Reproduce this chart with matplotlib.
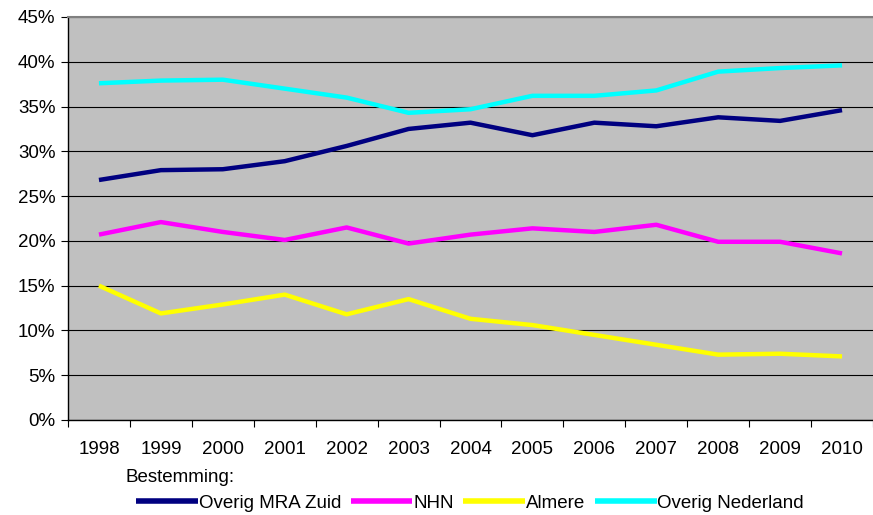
import matplotlib
matplotlib.use("Agg")
import matplotlib.pyplot as plt
import numpy as np

plt.rcParams['font.family'] = ['Liberation Sans', 'DejaVu Sans']

# data (percentages)
years = ['1998', '1999', '2000', '2001', '2002', '2003', '2004',
         '2005', '2006', '2007', '2008', '2009', '2010']
mra_zuid = [26.8, 27.9, 28.0, 28.9, 30.6, 32.5, 33.2, 31.8, 33.2, 32.8, 33.8, 33.4, 34.6]
nhn = [20.7, 22.1, 21.0, 20.1, 21.5, 19.7, 20.7, 21.4, 21.0, 21.8, 19.9, 19.9, 18.6]
almere = [15.0, 11.9, 12.9, 14.0, 11.8, 13.5, 11.3, 10.6, 9.5, 8.4, 7.3, 7.4, 7.1]
overig_nl = [37.6, 37.9, 38.0, 37.0, 36.0, 34.3, 34.7, 36.2, 36.2, 36.8, 38.9, 39.3, 39.6]

series = [('Overig MRA Zuid', mra_zuid, '#000080'),
          ('NHN', nhn, '#FF00FF'),
          ('Almere', almere, '#FFFF00'),
          ('Overig Nederland', overig_nl, '#00FFFF')]

fs = 13.5

fig = plt.figure(figsize=(8.73, 5.15), dpi=100)
ax = fig.add_axes([68 / 873, 95 / 515, 805 / 873, 403 / 515])
ax.set_facecolor('#C0C0C0')

x = np.arange(len(years))
for name, vals, col in series:
    ax.plot(x, vals, color=col, lw=3.2, label=name, solid_capstyle='butt', zorder=3)

ax.set_xlim(-0.5, len(years) - 0.5)
ax.set_ylim(0, 45)
ax.set_yticks(np.arange(0, 46, 5))
ax.set_yticklabels(['%d%%' % v for v in range(0, 46, 5)])
ax.yaxis.grid(True, color='black', lw=0.8)
ax.set_axisbelow(True)

# tick marks between categories, labels at centers
ax.set_xticks(np.arange(-0.5, len(years), 1.0))
ax.set_xticklabels([])
ax.set_xticks(x, minor=True)
ax.set_xticklabels(years, minor=True)
ax.tick_params(axis='x', which='major', length=5, color='black')
ax.tick_params(axis='x', which='minor', length=0, pad=15, labelsize=fs)
ax.tick_params(axis='y', length=5, pad=4, labelsize=fs)

for s in ['left', 'bottom']:
    ax.spines[s].set_color('black')
    ax.spines[s].set_linewidth(1)
ax.spines['top'].set_color('#808080')
ax.spines['top'].set_linewidth(1.5)
ax.spines['right'].set_visible(False)

fig.text(180 / 873, 1 - 477 / 515, 'Bestemming:', ha='center', va='center', fontsize=fs)
leg = fig.legend(loc='center', bbox_to_anchor=(470 / 873, 1 - 503 / 515), ncol=4, frameon=False,
                 fontsize=fs, handlelength=3.3, handletextpad=0.05, columnspacing=0.5,
                 borderpad=0, borderaxespad=0)
for h in leg.get_lines():
    h.set_linewidth(4)

fig.savefig('out.png', dpi=100)
